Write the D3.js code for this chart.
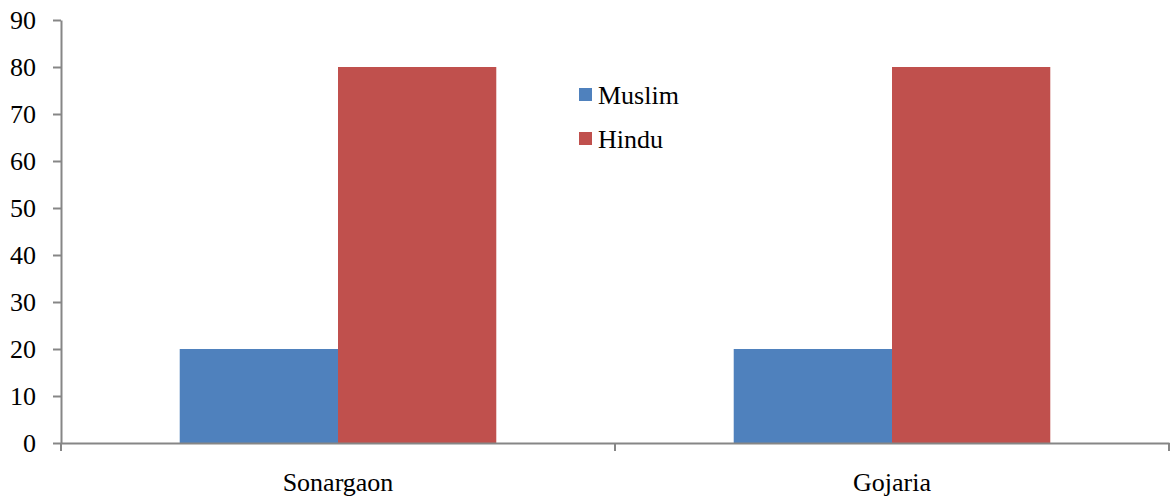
<!DOCTYPE html>
<html>
<head>
<meta charset="utf-8">
<script src="https://cdn.jsdelivr.net/npm/d3@7"></script>
<style>
  body { margin: 0; background: #fff; }
  svg { display: block; }
  text { font-family: "Liberation Serif", "Times New Roman", serif; fill: #000; }
</style>
</head>
<body>
<svg id="chart" width="1176" height="500"></svg>
<script>
// Data
const categories = ["Sonargaon", "Gojaria"];
const seriesNames = ["Muslim", "Hindu"];
const muslimValues = [20, 20];
const hinduValues = [80, 80];
const yTicks = [0, 10, 20, 30, 40, 50, 60, 70, 80, 90];
const seriesColors = ["#4F81BD", "#C0504D"];

const valuesBySeries = { Muslim: muslimValues, Hindu: hinduValues };

const svg = d3.select("#chart");
const margin = { left: 61, right: 7, top: 20, bottom: 57 };
const W = 1176, H = 500;
const plotW = W - margin.left - margin.right;
const plotH = H - margin.top - margin.bottom;
const fontSize = "26px";

const g = svg.append("g").attr("transform", `translate(${margin.left},${margin.top})`);

const x0 = d3.scaleBand().domain(categories).range([0, plotW]).padding(0);
const x1 = d3.scaleBand().domain(seriesNames).range([0, x0.bandwidth()])
  .paddingInner(0).paddingOuter(0.75);
const y = d3.scaleLinear().domain([0, 90]).range([plotH, 0]);
const color = d3.scaleOrdinal().domain(seriesNames).range(seriesColors);

// Bars
const groups = g.selectAll("g.cat").data(categories).join("g")
  .attr("class", "cat")
  .attr("transform", d => `translate(${x0(d)},0)`);

groups.selectAll("rect")
  .data((c, i) => seriesNames.map(s => ({ s, v: valuesBySeries[s][i] })))
  .join("rect")
  .attr("x", d => x1(d.s))
  .attr("y", d => y(d.v))
  .attr("width", x1.bandwidth())
  .attr("height", d => y(0) - y(d.v))
  .attr("fill", d => color(d.s));

// Y axis
const yAxis = g.append("g")
  .call(d3.axisLeft(y).tickValues(yTicks).tickSize(8).tickPadding(17).tickSizeOuter(0));
yAxis.select(".domain").attr("stroke", "#868686").attr("stroke-width", 2);
yAxis.selectAll(".tick line").attr("stroke", "#868686").attr("stroke-width", 2);
yAxis.selectAll(".tick text")
  .style("font-family", "'Liberation Serif', serif")
  .style("font-size", fontSize).attr("fill", "#000");

// X axis
const xAxis = g.append("g").attr("transform", `translate(0,${plotH})`)
  .call(d3.axisBottom(x0).tickSize(0).tickPadding(30));
xAxis.select(".domain").attr("stroke", "#868686").attr("stroke-width", 2);
xAxis.selectAll(".tick text")
  .style("font-family", "'Liberation Serif', serif")
  .style("font-size", fontSize).attr("fill", "#000");
// category separators
const boundaries = [0, ...categories.map(c => x0(c) + x0.bandwidth())];
xAxis.selectAll("line.sep").data(boundaries).join("line")
  .attr("class", "sep")
  .attr("x1", d => d).attr("x2", d => d)
  .attr("y1", 0).attr("y2", 8)
  .attr("stroke", "#868686").attr("stroke-width", 2);

// Legend
const legend = svg.append("g").attr("transform", "translate(579,88)");
const items = legend.selectAll("g").data(seriesNames).join("g")
  .attr("transform", (d, i) => `translate(0,${i * 44})`);
items.append("rect").attr("width", 13).attr("height", 13).attr("fill", d => color(d));
items.append("text").attr("x", 19).attr("y", 16)
  .style("font-size", fontSize).text(d => d);
</script>
</body>
</html>
